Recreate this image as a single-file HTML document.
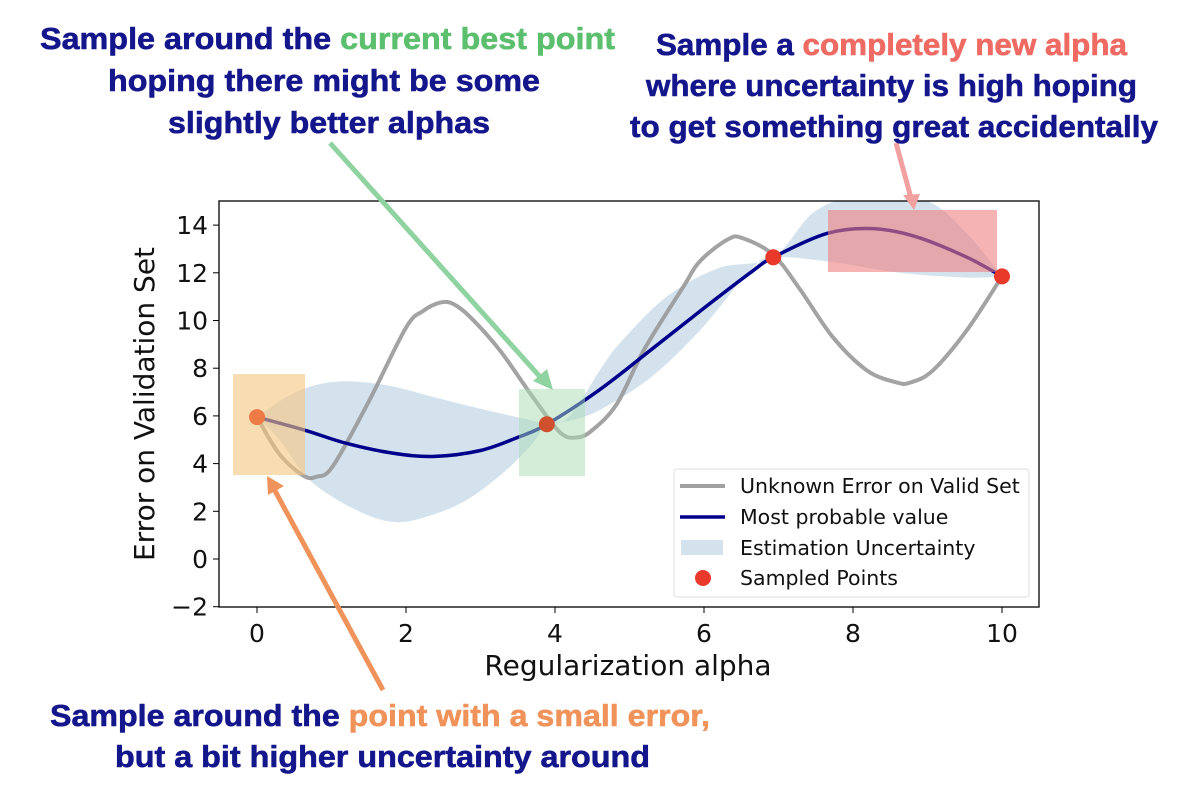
<!DOCTYPE html>
<html><head><meta charset="utf-8"><style>
body{margin:0;background:#fff;}
svg{display:block;font-family:"DejaVu Sans","Liberation Sans",sans-serif;}
.ann{font-family:"Liberation Sans",sans-serif;font-weight:bold;font-size:31px;fill:#14168c;stroke:#14168c;stroke-width:0.6;}
</style></head><body>
<svg id="chart" width="1184" height="800" viewBox="0 0 1184 800">
<defs><clipPath id="plotclip"><rect x="219" y="201" width="820" height="406"/></clipPath></defs>
<rect x="0" y="0" width="1184" height="800" fill="#fff"/>
<g id="plot" clip-path="url(#plotclip)"></g>
<rect x="219" y="201" width="820" height="406" fill="none" stroke="#000" stroke-width="1.3"/>
<g id="ticks"></g>
<text x="628" y="675" font-size="28" text-anchor="middle" fill="#111">Regularization alpha</text>
<text transform="translate(154,404) rotate(-90)" font-size="28" text-anchor="middle" fill="#111">Error on Validation Set</text>
<g>
<rect x="674" y="469" width="355" height="128" rx="3" fill="#fff" fill-opacity="0.85" stroke="#ddd"/>
<line x1="680" y1="486" x2="725" y2="486" stroke="#a0a0a0" stroke-width="4"/>
<text x="740" y="493" font-size="20.5" fill="#111">Unknown Error on Valid Set</text>
<line x1="680" y1="517" x2="725" y2="517" stroke="#00008b" stroke-width="3.5"/>
<text x="740" y="524" font-size="20.5" fill="#111">Most probable value</text>
<rect x="681" y="540" width="42" height="15" fill="#d4e2ee"/>
<text x="740" y="555" font-size="20.5" fill="#111">Estimation Uncertainty</text>
<circle cx="703" cy="578" r="8" fill="#e8392a"/>
<text x="740" y="585" font-size="20.5" fill="#111">Sampled Points</text>
</g>
<g>
<line x1="330" y1="143" x2="542" y2="379" stroke="#8fd3a0" stroke-width="5"/>
<polygon points="553,390 533,381 547,369" fill="#8fd3a0"/>
<line x1="383" y1="690" x2="274" y2="489" stroke="#f0935a" stroke-width="5"/>
<polygon points="267,476 284,486 268,495" fill="#f0935a"/>
<line x1="896" y1="143" x2="911" y2="198" stroke="#f2a0a0" stroke-width="5"/>
<polygon points="914,210 903,195 920,194" fill="#f2a0a0"/>
</g>
<g>
<text class="ann" x="40" y="49" textLength="575" lengthAdjust="spacingAndGlyphs">Sample around the <tspan fill="#5cbf6e" stroke="#5cbf6e">current best point</tspan></text>
<text class="ann" x="108" y="91" textLength="432" lengthAdjust="spacingAndGlyphs">hoping there might be some</text>
<text class="ann" x="168" y="133" textLength="322" lengthAdjust="spacingAndGlyphs">slightly better alphas</text>
</g>
<g>
<text class="ann" x="656" y="55" textLength="471" lengthAdjust="spacingAndGlyphs">Sample a <tspan fill="#ee6a62" stroke="#ee6a62">completely new alpha</tspan></text>
<text class="ann" x="646" y="96" textLength="491" lengthAdjust="spacingAndGlyphs">where uncertainty is high hoping</text>
<text class="ann" x="630" y="137" textLength="528" lengthAdjust="spacingAndGlyphs">to get something great accidentally</text>
</g>
<g>
<text class="ann" x="50" y="726" textLength="660" lengthAdjust="spacingAndGlyphs">Sample around the <tspan fill="#f0935a" stroke="#f0935a">point with a small error,</tspan></text>
<text class="ann" x="115" y="767" textLength="535" lengthAdjust="spacingAndGlyphs">but a bit higher uncertainty around</text>
</g>
</svg>
<script>
const trueX=[0,0.3,0.62,0.8,1.02,1.5,2.0,2.23,2.46,2.63,2.86,3.26,3.7,4.07,4.3,4.5,4.83,5.2,5.72,5.95,6.32,6.52,6.93,7.29,7.73,8.19,8.59,8.77,9.07,9.53,10];
const trueY=[5.95,4.4,3.5,3.45,3.9,6.6,9.7,10.4,10.75,10.7,10.15,8.75,6.8,5.3,5.1,5.4,6.5,8.8,11.4,12.5,13.4,13.45,12.75,11.3,9.3,7.9,7.4,7.4,7.9,9.6,11.85];
const meanX=[0,0.64,1.2,1.8,2.36,3.0,3.5,3.89,4.6,5.28,5.95,6.62,6.93,7.65,8.27,8.86,9.53,10];
const meanY=[5.95,5.4,4.85,4.45,4.3,4.55,5.1,5.65,7.1,8.75,10.4,12.0,12.65,13.65,13.85,13.5,12.65,11.85];
const upX=[0,0.4,0.8,1.25,1.8,2.36,3.0,3.7,3.89,4.2,4.6,4.87,5.5,6.2,6.93,7.5,8.2,9.0,9.53,10];
const upY=[5.95,6.8,7.3,7.45,7.25,6.8,6.3,5.8,5.65,6.0,7.9,9.05,11.0,12.2,12.65,14.6,15.3,15.0,13.65,11.85];
const loX=[0,0.3,0.71,1.3,1.83,2.3,2.8,3.3,3.7,3.89,4.2,4.6,5.28,5.95,6.62,6.93,7.73,8.63,9.53,10];
const loY=[5.95,5.0,3.3,2.1,1.55,1.8,2.45,3.6,4.85,5.65,5.8,6.25,7.6,9.6,12.1,12.65,12.45,12.0,11.8,11.85];
const sampX=[0,3.89,6.93,10];
const sampY=[5.95,5.65,12.65,11.85];
const xTicks=[0,2,4,6,8,10];
const yTicks=[-2,0,2,4,6,8,10,12,14];
const NS="http://www.w3.org/2000/svg";
const sx=v=>257+v*74.5;
const sy=v=>559-v*23.85;
function smooth(xs,ys){
  const p=xs.map((x,i)=>[sx(x),sy(ys[i])]);
  let d="M"+p[0][0]+","+p[0][1];
  for(let i=0;i<p.length-1;i++){
    const p0=p[Math.max(0,i-1)],p1=p[i],p2=p[i+1],p3=p[Math.min(p.length-1,i+2)];
    const c1=[p1[0]+(p2[0]-p0[0])/6,p1[1]+(p2[1]-p0[1])/6];
    const c2=[p2[0]-(p3[0]-p1[0])/6,p2[1]-(p3[1]-p1[1])/6];
    d+=" C"+c1+" "+c2+" "+p2;
  }
  return d;
}
const plot=document.getElementById('plot');
function add(parent,tag,attrs){const e=document.createElementNS(NS,tag);for(const k in attrs)e.setAttribute(k,attrs[k]);parent.appendChild(e);return e;}
const upPath=smooth(upX,upY);
const loRevX=loX.slice().reverse(),loRevY=loY.slice().reverse();
const loPath=smooth(loRevX,loRevY).replace(/^M/," L");
const band=add(plot,'path',{d:upPath+loPath+" Z",fill:"#d4e2ee"});


const tl=add(plot,'path',{d:smooth(trueX,trueY),fill:"none",stroke:"#999",'stroke-opacity':"0.9",'stroke-width':"4",'stroke-linejoin':"round"});


const ml=add(plot,'path',{d:smooth(meanX,meanY),fill:"none",stroke:"#00008b",'stroke-width':"3.5"});


const r1=add(plot,'rect',{x:233,y:374,width:72,height:101,fill:"#f5c77e",'fill-opacity':"0.6"});


const r2=add(plot,'rect',{x:519,y:389,width:66,height:87,fill:"#a8dbb4",'fill-opacity':"0.5"});


const r3=add(plot,'rect',{x:828,y:210,width:169,height:62,fill:"#ee8080",'fill-opacity':"0.6"});


const cols=["#ee7a45","#d0502e","#e8392a","#e8392a"];
sampX.forEach((x,i)=>{
  const c=add(plot,'circle',{cx:sx(x),cy:sy(sampY[i]),r:8,fill:cols[i]});
  
  
});
const tg=document.getElementById('ticks');
xTicks.forEach(v=>{
  add(tg,'line',{x1:sx(v),x2:sx(v),y1:607,y2:613,stroke:"#000"});
  const t=add(tg,'text',{x:sx(v),y:642,'font-size':"25",'text-anchor':"middle",fill:"#111"});
  t.textContent=v;
  
  
});
yTicks.forEach(v=>{
  add(tg,'line',{x1:213,x2:219,y1:sy(v),y2:sy(v),stroke:"#000"});
  const t=add(tg,'text',{x:208,y:sy(v)+9,'font-size':"25",'text-anchor':"end",fill:"#111"});
  t.textContent=v<0?"\u2212"+(-v):v;
  
  
});
</script>
</body></html>
